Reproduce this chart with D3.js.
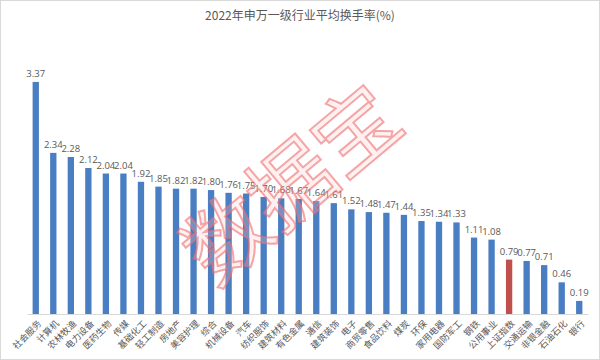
<!DOCTYPE html>
<html><head><meta charset="utf-8">
<script src="https://cdn.jsdelivr.net/npm/d3@7"></script>
<style>body{margin:0;background:#fff}svg{display:block}</style>
</head><body>
<script>
const categories = ["社会服务","计算机","农林牧渔","电力设备","医药生物","传媒","基础化工","轻工制造","房地产","美容护理","综合","机械设备","汽车","纺织服饰","建筑材料","有色金属","通信","建筑装饰","电子","商贸零售","食品饮料","煤炭","环保","家用电器","国防军工","钢铁","公用事业","上证指数","交通运输","非银金融","石油石化","银行"];
const values = [3.37,2.34,2.28,2.12,2.04,2.04,1.92,1.85,1.82,1.82,1.80,1.76,1.75,1.70,1.68,1.67,1.64,1.61,1.52,1.48,1.47,1.44,1.35,1.34,1.33,1.11,1.08,0.79,0.77,0.71,0.46,0.19];
const highlight = ["上证指数"];
const title = "2022年申万一级行业平均换手率(%)";

const W=600,H=360;
const svg=d3.select("body").append("svg").attr("width",W).attr("height",H);
svg.append("rect").attr("x",0.5).attr("y",0.5).attr("width",W-1).attr("height",H-1).attr("fill","#fff").attr("stroke","#d9d9d9");
const font="'Noto Sans CJK SC','Noto Sans',sans-serif";
svg.append("text").attr("x",300).attr("y",20).attr("text-anchor","middle")
  .attr("font-family",font).attr("font-size",12).attr("fill","#595959").text(title);

const x=d3.scaleBand().domain(categories).range([27,588]).paddingInner(0.64).paddingOuter(0.32);
const y=d3.scaleLinear().domain([0,3.5]).range([314,73]);

const data=categories.map((c,i)=>({c,v:values[i]}));
svg.selectAll("rect.bar").data(data).join("rect").attr("class","bar")
  .attr("x",d=>x(d.c)).attr("width",x.bandwidth())
  .attr("y",d=>y(d.v)).attr("height",d=>y(0)-y(d.v))
  .attr("fill",d=>highlight.includes(d.c)?"#C0504D":"#4A7EC2");

svg.selectAll("text.val").data(data).join("text").attr("class","val")
  .attr("x",d=>x(d.c)+x.bandwidth()/2).attr("y",d=>y(d.v)-5)
  .attr("text-anchor","middle").attr("font-family","'Open Sans','Noto Sans',sans-serif").attr("font-size",9.5)
  .attr("fill","#595959").text(d=>d.v.toFixed(2));

const ax=svg.append("g").attr("transform","translate(0,314)")
  .call(d3.axisBottom(x).tickSize(0).tickPadding(0));
ax.select(".domain").attr("stroke","#d9d9d9");
ax.selectAll("text").attr("font-family",font).attr("font-size",9).attr("fill","#595959")
  .attr("text-anchor","end").attr("dy","0.35em")
  .attr("transform",function(){return "translate(4,8) rotate(-45)";});

// watermark
svg.append("text").attr("transform","translate(292,185) rotate(-40)")
  .attr("text-anchor","middle").attr("dy","0.35em")
  .attr("font-family",font).attr("font-size",84)
  .attr("fill","rgba(255,200,200,0.25)").attr("stroke","rgba(238,110,110,0.6)").attr("stroke-width",2)
  .text("数据宝");
</script>
</body></html>
